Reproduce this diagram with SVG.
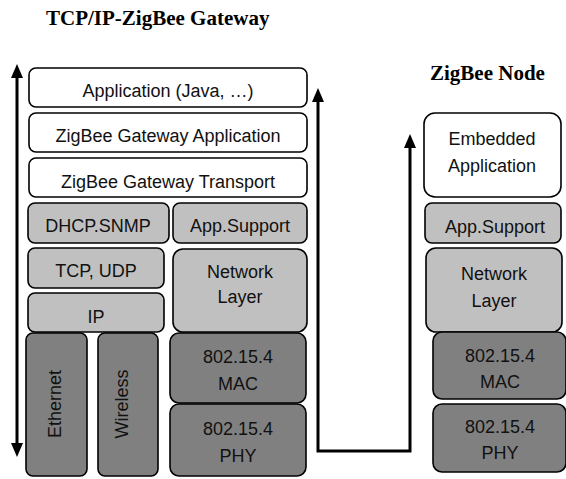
<svg xmlns="http://www.w3.org/2000/svg" width="566" height="479" viewBox="0 0 566 479">
<style>
.b{stroke:#000;stroke-width:1.6}
.w{fill:#fff}
.l{fill:#c0c0c0}
.d{fill:#808080}
.t{font-family:"Liberation Sans",Arial,sans-serif;font-size:18px;fill:#111;text-anchor:middle}
.h{font-family:"Liberation Serif","Times New Roman",serif;font-size:21px;font-weight:bold;fill:#000}
.c{fill:none;stroke:#000;stroke-width:3}
</style>
<defs>
<marker id="ah" viewBox="0 0 14 12" refX="2" refY="6" markerWidth="14" markerHeight="12" markerUnits="userSpaceOnUse" orient="auto-start-reverse">
<path d="M0,0 L14,6 L0,12 z" fill="#000"/>
</marker>
</defs>
<text class="h" x="46" y="25">TCP/IP-ZigBee Gateway</text>
<text class="h" x="430" y="80">ZigBee Node</text>
<g id="connectors">
<path class="c" d="M17,76 L17,445" marker-start="url(#ah)" marker-end="url(#ah)"/>
<path class="c" d="M318,100 L318,451 L410,451 L410,146" marker-start="url(#ah)" marker-end="url(#ah)"/>
</g>
<g id="gw-app"><rect class="b w" x="29" y="68" width="278" height="39" rx="7"/><text class="t" x="168" y="97">Application (Java, …)</text></g>
<g id="gw-zapp"><rect class="b w" x="29" y="113" width="278" height="39" rx="7"/><text class="t" x="168" y="142">ZigBee Gateway Application</text></g>
<g id="gw-ztrans"><rect class="b w" x="29" y="158" width="278" height="39" rx="7"/><text class="t" x="168" y="188">ZigBee Gateway Transport</text></g>
<g id="gw-dhcp"><rect class="b l" x="28" y="203" width="141" height="40" rx="7"/><text class="t" x="98" y="232">DHCP.SNMP</text></g>
<g id="gw-aps"><rect class="b l" x="173" y="203" width="134" height="40" rx="7"/><text class="t" x="240" y="232">App.Support</text></g>
<g id="gw-tcp"><rect class="b l" x="28" y="248" width="136" height="40" rx="7"/><text class="t" x="96" y="277">TCP, UDP</text></g>
<g id="gw-nwk"><rect class="b l" x="173" y="249" width="134" height="83" rx="10"/><text class="t" x="240" y="278">Network</text><text class="t" x="240" y="303">Layer</text></g>
<g id="gw-ip"><rect class="b l" x="28" y="293" width="136" height="39" rx="7"/><text class="t" x="96" y="323">IP</text></g>
<g id="gw-eth"><rect class="b d" x="26" y="333" width="61" height="143" rx="7"/><text class="t" transform="translate(61,404) rotate(-90)" x="0" y="0">Ethernet</text></g>
<g id="gw-wl"><rect class="b d" x="98" y="333" width="60" height="143" rx="7"/><text class="t" transform="translate(128,404) rotate(-90)" x="0" y="0">Wireless</text></g>
<g id="gw-mac"><rect class="b d" x="170" y="333" width="136" height="70" rx="9"/><text class="t" x="238" y="363">802.15.4</text><text class="t" x="238" y="390">MAC</text></g>
<g id="gw-phy"><rect class="b d" x="170" y="404" width="136" height="72" rx="9"/><text class="t" x="238" y="435">802.15.4</text><text class="t" x="238" y="462">PHY</text></g>
<g id="zn-app"><rect class="b w" x="424" y="113" width="137" height="84" rx="11"/><text class="t" x="492" y="145">Embedded</text><text class="t" x="492" y="172">Application</text></g>
<g id="zn-aps"><rect class="b l" x="425" y="203" width="136" height="40" rx="7"/><text class="t" x="495" y="233">App.Support</text></g>
<g id="zn-nwk"><rect class="b l" x="426" y="248" width="136" height="84" rx="10"/><text class="t" x="494" y="280">Network</text><text class="t" x="494" y="307">Layer</text></g>
<g id="zn-mac"><rect class="b d" x="433" y="332" width="133" height="67" rx="9"/><text class="t" x="500" y="362">802.15.4</text><text class="t" x="500" y="388">MAC</text></g>
<g id="zn-phy"><rect class="b d" x="433" y="404" width="133" height="68" rx="9"/><text class="t" x="500" y="433">802.15.4</text><text class="t" x="500" y="459">PHY</text></g>
</svg>
